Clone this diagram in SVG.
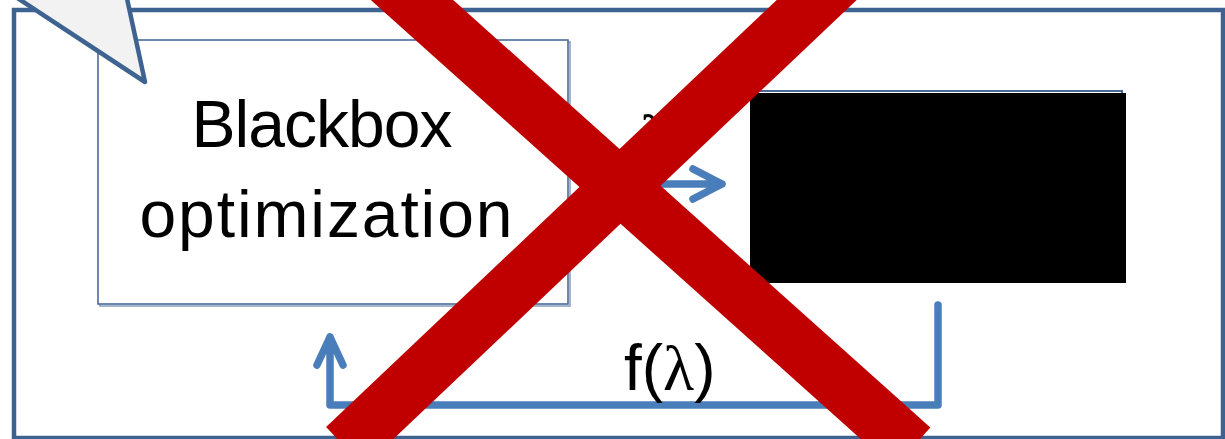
<svg xmlns="http://www.w3.org/2000/svg" width="1225" height="439" viewBox="0 0 1225 439">
<style>
.frame{fill:none;stroke:#3f6390;stroke-width:4.5}
.box{fill:#ffffff;stroke:#4a6a9a;stroke-width:1.6}
.shadow{fill:none;stroke:#8fa3bf;stroke-width:1.6}
.conn{fill:none;stroke:#4a7ebb;stroke-width:7.5;stroke-linecap:round;stroke-linejoin:round}
.lbl{font-family:"Liberation Sans",Arial,sans-serif;fill:#000000}
.greek{font-family:"Liberation Serif","Times New Roman",serif}
.cross{stroke:#c00000;stroke-width:55;stroke-linecap:butt;fill:none}
</style>
<rect class="frame" x="14" y="10" width="1209" height="428"/>
<g id="optimizer">
<rect class="shadow" x="100" y="42" width="470" height="264"/>
<rect class="box" x="98" y="40" width="470" height="264"/>
<text class="lbl" x="322" y="147" font-size="66" text-anchor="middle" textLength="261" lengthAdjust="spacing">Blackbox</text>
<text class="lbl" x="326" y="237" font-size="66" text-anchor="middle" textLength="373" lengthAdjust="spacing">optimization</text>
</g>
<g id="blackbox">
<rect x="752" y="91" width="370" height="190" fill="#ffffff" stroke="#4a6a9a" stroke-width="2"/>
<rect x="750" y="93" width="376" height="190" fill="#000000"/>
</g>
<g id="connectors">
<path class="conn" d="M640 184 H722 M693 169 L722 184 L693 199"/>
<path class="conn" d="M938 305 V405 H330 V337 M317 365 L330 337 L343 365"/>
</g>
<g id="labels">
<text class="lbl greek" x="640" y="159" font-size="64">λ</text>
<text class="lbl" x="624" y="390" font-size="64">f(<tspan class="greek">λ</tspan>)</text>
</g>
<g id="callout">
<polygon points="-10,-20 145,82 123,-20" fill="#f2f2f2" stroke="#3f6390" stroke-width="4.5" stroke-linejoin="round"/>
</g>
<g id="cross">
<line class="cross" x1="345" y1="-60" x2="912" y2="448"/>
<line class="cross" x1="880" y1="-60" x2="345" y2="447"/>
</g>
</svg>
